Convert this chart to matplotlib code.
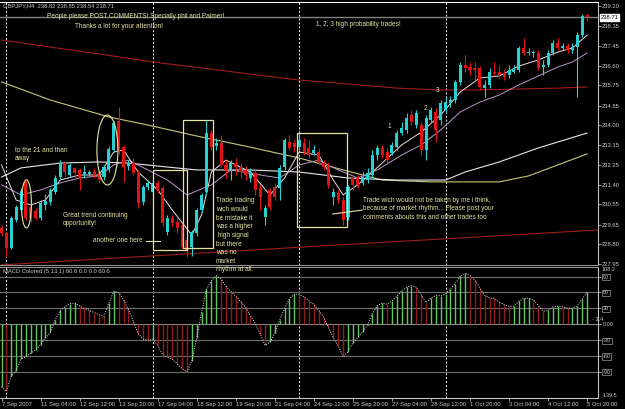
import matplotlib.pyplot as plt
from matplotlib.patches import Rectangle, Ellipse
import numpy as np

plt.rcParams['font.family'] = ['Liberation Sans', 'DejaVu Sans']

# GBPJPY H4 candles, 7 Sep 2007 .. 5 Oct 2007
opens = [229.52, 229.30, 228.65, 229.87, 230.30, 231.53, 230.43, 230.26, 229.96, 230.52,
         230.65, 231.09, 231.74, 232.35, 231.83, 232.14, 232.05, 231.87, 231.87, 231.96,
         231.92, 231.74, 232.05, 232.92, 234.19, 233.05, 232.22, 232.35, 231.92, 230.65,
         231.31, 231.09, 231.48, 231.27, 229.35, 229.96, 229.78, 229.65, 228.99, 228.69,
         229.30, 230.30, 231.09, 233.66, 233.09, 233.23, 232.27, 232.05, 232.35, 232.18,
         232.05, 231.70, 231.92, 231.27, 230.00, 231.18, 231.31, 231.27, 232.18, 233.27,
         233.23, 233.05, 233.23, 233.01, 232.79, 232.83, 232.35, 232.27, 230.87, 231.05,
         230.74, 230.00, 231.70, 231.70, 231.48, 231.61, 231.83, 232.70, 233.01, 232.83,
         232.79, 233.05, 233.66, 233.79, 234.45, 234.01, 234.01, 232.92, 234.23, 234.58,
         234.23, 234.66, 234.97, 235.10, 235.89, 236.63, 236.54, 236.50, 236.50, 235.63,
         235.76, 236.32, 236.32, 236.28, 236.19, 236.32, 236.41, 237.37, 237.15, 237.15,
         237.15, 236.54, 236.63, 237.15, 237.59, 237.37, 237.45, 237.28, 237.41, 237.93,
         238.82]
highs = [229.65, 229.35, 230.04, 230.52, 231.27, 231.61, 230.57, 230.39, 230.74, 231.00,
         231.27, 231.83, 232.48, 232.40, 232.35, 232.18, 232.14, 232.27, 232.05, 232.14,
         232.05, 232.27, 233.09, 234.19, 234.79, 233.14, 232.48, 232.57, 232.05, 231.40,
         231.61, 231.57, 231.61, 231.35, 230.09, 230.09, 229.96, 229.74, 229.08, 229.43,
         230.39, 231.05, 234.23, 233.79, 233.44, 233.57, 232.48, 232.48, 232.57, 232.35,
         232.22, 232.14, 232.05, 231.40, 230.52, 231.27, 231.48, 232.27, 233.44, 233.57,
         233.36, 233.79, 233.44, 233.36, 233.14, 233.01, 232.48, 232.40, 231.27, 231.18,
         230.87, 231.40, 231.83, 231.83, 231.96, 232.14, 232.92, 233.14, 233.14, 233.01,
         233.27, 233.79, 234.14, 234.53, 234.66, 234.66, 234.14, 234.45, 234.79, 234.75,
         235.10, 235.23, 235.27, 235.97, 236.76, 237.06, 236.76, 236.76, 236.58, 235.97,
         236.50, 236.76, 236.63, 236.41, 236.63, 236.63, 237.45, 237.80, 237.37, 237.28,
         237.28, 236.85, 237.28, 237.72, 237.80, 237.59, 237.59, 237.59, 238.06, 238.85,
         238.85]
lows = [229.17, 228.25, 228.60, 229.78, 230.22, 229.87, 229.78, 229.87, 229.87, 230.30,
        230.52, 231.00, 231.66, 231.79, 231.74, 231.61, 231.18, 231.70, 231.79, 231.70,
        231.48, 231.61, 231.96, 232.83, 232.75, 231.53, 232.05, 231.83, 230.39, 230.52,
        231.18, 230.96, 231.05, 229.61, 229.21, 229.61, 229.30, 228.60, 228.25, 228.30,
        229.17, 230.22, 230.96, 232.92, 232.92, 232.18, 231.70, 231.61, 231.83, 231.70,
        231.61, 231.53, 230.96, 230.30, 229.65, 230.30, 230.74, 230.74, 232.05, 232.92,
        232.83, 232.92, 232.70, 232.57, 232.70, 232.27, 232.05, 231.27, 230.52, 230.61,
        229.65, 229.87, 231.18, 231.27, 231.40, 231.48, 231.70, 232.48, 232.57, 232.35,
        232.70, 232.92, 233.57, 233.66, 234.01, 233.88, 232.70, 232.48, 234.14, 233.27,
        234.01, 234.53, 234.79, 234.97, 235.76, 236.32, 236.19, 235.97, 235.54, 235.23,
        235.63, 236.15, 236.06, 235.97, 236.06, 236.28, 236.32, 237.06, 237.06, 236.97,
        236.41, 236.19, 236.54, 237.06, 237.28, 237.28, 237.15, 237.15, 235.23, 237.85,
        238.54]
closes = [229.30, 228.65, 229.96, 230.43, 231.13, 229.96, 229.96, 229.96, 230.61, 230.70,
          231.18, 231.70, 232.35, 231.96, 232.27, 231.92, 231.74, 231.96, 231.96, 231.83,
          231.61, 232.18, 232.96, 234.10, 232.83, 232.18, 232.35, 231.92, 230.61, 231.31,
          231.48, 231.48, 231.18, 229.74, 229.96, 229.74, 229.52, 228.69, 228.56, 229.35,
          230.30, 230.96, 233.66, 233.05, 233.23, 232.27, 232.05, 232.35, 232.18, 231.96,
          231.83, 231.96, 231.18, 230.87, 230.39, 230.43, 230.87, 232.14, 233.36, 233.01,
          233.05, 233.36, 232.83, 232.70, 232.92, 232.40, 232.18, 231.40, 231.09, 230.74,
          229.87, 231.31, 231.40, 231.40, 231.74, 231.92, 232.70, 233.01, 232.70, 232.48,
          233.14, 233.66, 233.88, 234.32, 234.14, 234.53, 232.92, 234.32, 234.66, 233.79,
          234.97, 235.01, 235.10, 235.89, 236.63, 236.50, 236.41, 236.41, 235.67, 235.76,
          236.32, 236.28, 236.19, 236.10, 236.41, 236.41, 237.37, 237.15, 237.19, 237.19,
          236.50, 236.63, 237.15, 237.59, 237.37, 237.45, 237.28, 237.41, 237.93, 238.76,
          238.71]

macd = [-118, -127, -98, -88, -66, -61, -55, -48, -39, -26,
        -15, 8, 26, 33, 39, 40, 35, 30, 26, 22,
        18, 15, 40, 62, 60, 46, 28, 6, -18, -28,
        -30, -28, -40, -57, -62, -66, -75, -84, -90, -70,
        -26, 23, 66, 82, 92, 85, 72, 62, 53, 43,
        32, 16, 1, -18, -40, -34, -17, 8, 30, 48,
        57, 56, 52, 44, 38, 26, 14, -6, -26, -41,
        -62, -52, -35, -25, -15, -1, 20, 35, 40, 38,
        44, 53, 63, 70, 73, 70, 56, 41, 50, 54,
        54, 57, 67, 77, 91, 96, 92, 83, 69, 55,
        50, 49, 42, 37, 34, 34, 43, 49, 49, 46,
        35, 25, 26, 33, 34, 33, 30, 30, 35, 48,
        60.6]

# moving averages (bar index, price)
fast_bar = [0, 3, 6, 9, 12, 16, 20, 23, 25, 28, 32, 35, 39, 41, 43, 46, 51, 55, 58, 61,
            65, 68, 70, 73, 76, 82, 86, 90, 94, 98, 102, 106, 110, 114, 117, 120]
fast_ma = [232.27, 230.74, 230.52, 230.74, 231.61, 231.83, 231.83, 232.83, 232.92, 231.96,
           231.18, 230.30, 229.21, 230.09, 231.96, 232.48, 231.96, 230.96, 231.70, 232.83,
           232.70, 231.61, 230.96, 231.40, 231.96, 233.14, 233.70, 234.45, 235.45, 236.06,
           236.15, 236.58, 236.85, 237.19, 237.37, 237.93]
mid_bar = [0, 4, 8, 12, 16, 20, 23, 26, 30, 34, 38, 43, 47, 53, 57, 61, 65, 69, 73, 77,
           82, 86, 90, 94, 98, 102, 106, 110, 114, 117, 120]
mid_ma = [231.40, 230.96, 231.18, 231.48, 231.70, 231.79, 232.27, 232.48, 232.05, 231.61,
          230.96, 231.40, 232.05, 231.83, 231.70, 232.27, 232.48, 232.05, 231.70, 232.05,
          232.70, 233.14, 233.79, 234.58, 235.01, 235.32, 235.76, 236.15, 236.54, 236.76,
          237.15]
white_bar = [0, 4, 12, 20, 26, 32, 40, 51, 61, 71, 81, 91, 95, 102, 110, 120]
white_ma = [231.74, 232.14, 232.35, 232.40, 232.35, 232.22, 232.05, 232.05, 231.96, 231.70,
            231.61, 231.61, 231.96, 232.40, 233.01, 233.66]
yellow_bar = [0, 10, 22, 30, 40, 50, 61, 70, 78, 88, 102, 108, 114, 120]
yellow_ma = [235.89, 235.10, 234.36, 234.01, 233.53, 233.09, 232.57, 232.05, 231.61, 231.53,
             231.53, 231.79, 232.27, 232.75]
slow_bar = [0, 10, 20, 31, 41, 51, 61, 71, 81, 90, 98, 106, 114, 120]
slow_ma = [237.72, 237.41, 237.11, 236.76, 236.50, 236.23, 235.97, 235.80, 235.62, 235.54,
           235.54, 235.58, 235.62, 235.67]
low_bar = [0, 65, 122]
low_line = [227.91, 228.73, 229.43]

price_ticks = [239.20, 238.35, 237.45, 236.60, 235.75, 234.85, 234.00, 233.15, 232.25,
               231.40, 230.55, 229.65, 228.80, 227.95]
macd_levels = [90, 60, 30, -30, -60, -90]
date_labels = ["7 Sep 2007", "11 Sep 04:00", "12 Sep 12:00", "13 Sep 20:00", "17 Sep 04:00",
               "18 Sep 12:00", "19 Sep 20:00", "21 Sep 04:00", "24 Sep 12:00", "25 Sep 20:00",
               "27 Sep 04:00", "28 Sep 12:00", "1 Oct 20:00", "3 Oct 04:00", "4 Oct 12:00",
               "5 Oct 20:00"]
week_starts = [1, 31, 61, 91]

W, H = 625, 409
CYAN = '#2ad0d0'
RED = '#e01414'
ANN = '#e4e4a4'
TXT = '#c8c8c8'


def fx(px):
    return px / W


def fy(py):
    return 1 - py / H


def main():
    fig = plt.figure(figsize=(6.25, 4.09), dpi=100, facecolor='black')
    ax = fig.add_axes([0, fy(265), 598 / W, 263 / H], facecolor='black')
    ax2 = fig.add_axes([0, fy(398), 598 / W, 131 / H], facecolor='black')

    x = np.arange(len(opens))
    o = np.array(opens)
    h = np.array(highs)
    l = np.array(lows)
    c = np.array(closes)
    col = np.where(c >= o, CYAN, RED)

    for b in week_starts:
        ax.axvline(b, color='white', ls=(0, (2, 2)), lw=0.7, zorder=1)
        ax2.axvline(b, color='white', ls=(0, (2, 2)), lw=0.7, zorder=1)

    ax.axhline(closes[-1], color='#808080', lw=1.0, zorder=1)

    ax.plot(low_bar, low_line, color='#a01c1c', lw=0.8, zorder=2)
    ax.plot(slow_bar, slow_ma, color='#a01c1c', lw=0.8, zorder=2)
    ax.plot(yellow_bar, yellow_ma, color='#c8c87a', lw=0.8, zorder=2)
    ax.plot(white_bar, white_ma, color='#e8e8e8', lw=0.8, zorder=2)
    ax.plot(mid_bar, mid_ma, color='#b898c8', lw=0.7, zorder=3)
    ax.plot(fast_bar, fast_ma, color='#ecdcdc', lw=0.7, zorder=3)

    ax.vlines(x, l, h, colors=col, lw=0.8, zorder=4)
    body = np.maximum(np.abs(c - o), 0.03)
    ax.bar(x, body, bottom=np.minimum(o, c), width=0.62, color=col, lw=0, zorder=5)

    # annotations
    ax.add_patch(Rectangle((31.0, 228.56), 7.0, 3.49, fill=False, ec=ANN, lw=0.9, zorder=6))
    ax.add_patch(Rectangle((37.2, 228.65), 6.15, 5.58, fill=False, ec=ANN, lw=0.9, zorder=6))
    ax.add_patch(Rectangle((60.55, 229.56), 10.25, 4.10, fill=False, ec=ANN, lw=0.9, zorder=6))
    ax.add_patch(Ellipse((5.1, 230.57), 2.05, 2.1, fill=False, ec=ANN, lw=0.8, zorder=6))
    ax.add_patch(Ellipse((21.7, 232.92), 4.3, 3.05, fill=False, ec=ANN, lw=0.8, zorder=6))
    ax.plot([29.6, 32.5], [228.95, 228.95], color=ANN, lw=0.8, zorder=6)
    ax.plot([67.9, 73.9], [230.13, 230.30], color=ANN, lw=0.8, zorder=6)

    ax.set_xlim(-0.31, 122.23)
    ax.set_ylim(227.905, 239.375)
    ax.set_xticks([])
    ax.yaxis.tick_right()
    ax.set_yticks(price_ticks)
    ax.set_yticklabels(['%.2f' % p for p in price_ticks])
    ax.tick_params(axis='y', colors='#b0b0b0', labelcolor=TXT, labelsize=4.2,
                   length=2, width=0.6, pad=1)
    ax.spines['left'].set_visible(False)
    ax.spines['top'].set_color('white')
    ax.spines['right'].set_color('#c0c0c0')
    ax.spines['bottom'].set_color('#909090')
    ax.text(1.004, closes[-1], '%.2f' % closes[-1], transform=ax.get_yaxis_transform(),
            fontsize=4.2, color='black', va='center', ha='left',
            bbox=dict(boxstyle='square,pad=0.15', fc='white', ec='white'))

    # MACD panel
    m = np.array(macd)
    mcol = ['#62c462' if i == 0 or m[i] >= m[i - 1] else '#8e1e1e' for i in range(len(m))]
    for lv in macd_levels:
        ax2.axhline(lv, color='#6e6e6e', lw=0.8, zorder=1)
    ax2.axhline(0, color='#8a8a8a', lw=0.8, zorder=1)
    ax2.vlines(x, 0, m, colors=mcol, lw=1.0, zorder=3)
    ax2.plot(x, m, color='#e0e0e0', ls=(0, (1, 1.5)), lw=0.7, zorder=4)
    ax2.set_xlim(-0.31, 122.23)
    ax2.set_ylim(-139.5, 108.2)
    ax2.yaxis.tick_right()
    ax2.set_yticks(macd_levels + [0])
    ax2.set_yticklabels([str(v) for v in macd_levels] + ['0.00'])
    ax2.tick_params(axis='y', colors='#b0b0b0', labelcolor=TXT, labelsize=4.0,
                    length=2, width=0.6, pad=1.5)
    for t in ax2.get_yticklabels()[:-1]:
        t.set_bbox(dict(boxstyle='square,pad=0.1', fc='black', ec='#808080', lw=0.6))
    ax2.set_xticks(np.arange(0, len(opens), 8))
    ax2.set_xticklabels(date_labels, ha='left')
    ax2.tick_params(axis='x', colors='#b0b0b0', labelcolor=TXT, labelsize=4.2,
                    length=2, width=0.6, pad=1)
    ax2.spines['left'].set_visible(False)
    ax2.spines['top'].set_color('#909090')
    ax2.spines['right'].set_color('#c0c0c0')
    ax2.spines['bottom'].set_color('#c0c0c0')
    ax2.text(1.006, 1.0, '108.2', transform=ax2.transAxes, fontsize=4.0, color=TXT,
             va='top', ha='left')
    ax2.text(1.006, 0.0, '-139.5', transform=ax2.transAxes, fontsize=4.0, color=TXT,
             va='bottom', ha='left')
    ax2.text(0.99, 8.5, '- 3.4', transform=ax2.get_yaxis_transform(), fontsize=4.0,
             color=TXT, va='center', ha='left', zorder=6)

    # texts
    fig.text(fx(3), fy(6), 'GBPJPY,H4  238.82 238.85 238.54 238.71', color=TXT,
             fontsize=4.2, va='center')
    fig.text(fx(3), fy(272), 'MACD Colored (5,13,1) 60.6 0.0 0.0 60.6', color=TXT,
             fontsize=4.2, va='center')
    fig.text(fx(47), fy(17), 'People please POST COMMENTS! Specially phil and Palmer!',
             color=ANN, fontsize=4.7, va='center')
    fig.text(fx(75), fy(26.5), 'Thanks a lot for your attention!', color=ANN,
             fontsize=4.7, va='center')
    fig.text(fx(316), fy(25), '1, 2, 3 high probability trades!', color=ANN,
             fontsize=4.7, va='center')
    fig.text(fx(15), fy(150), 'to the 21 and than', color=ANN, fontsize=4.7, va='center')
    fig.text(fx(15), fy(158), 'away', color=ANN, fontsize=4.7, va='center')
    fig.text(fx(63), fy(215), 'Great trend continuing', color=ANN, fontsize=4.7, va='center')
    fig.text(fx(63), fy(223.5), 'opportunity!', color=ANN, fontsize=4.7, va='center')
    fig.text(fx(93), fy(241), 'another one here', color=ANN, fontsize=4.7, va='center')
    lines1 = ['Trade trading', 'wich would', 'be mistake it', 'was a higher', ' high signal',
              'but there', 'was no', 'market', 'rhythm at all.']
    for k, s in enumerate(lines1):
        fig.text(fx(216), fy(201 + 8.6 * k), s, color=ANN, fontsize=4.7, va='center')
    lines2 = ['Trade wich would not be taken by me i think,',
              'because of market rhythm... Please post your',
              'comments abouts this and other trades too']
    for k, s in enumerate(lines2):
        fig.text(fx(363), fy(200 + 8.6 * k), s, color=ANN, fontsize=4.7, va='center')
    fig.text(fx(388), fy(127), '1', color=ANN, fontsize=4.7, va='center')
    fig.text(fx(424), fy(109), '2', color=ANN, fontsize=4.7, va='center')
    fig.text(fx(436), fy(90), '3', color=ANN, fontsize=4.7, va='center')

    plt.savefig('out.png', dpi=100, facecolor='black')


if __name__ == '__main__':
    main()
